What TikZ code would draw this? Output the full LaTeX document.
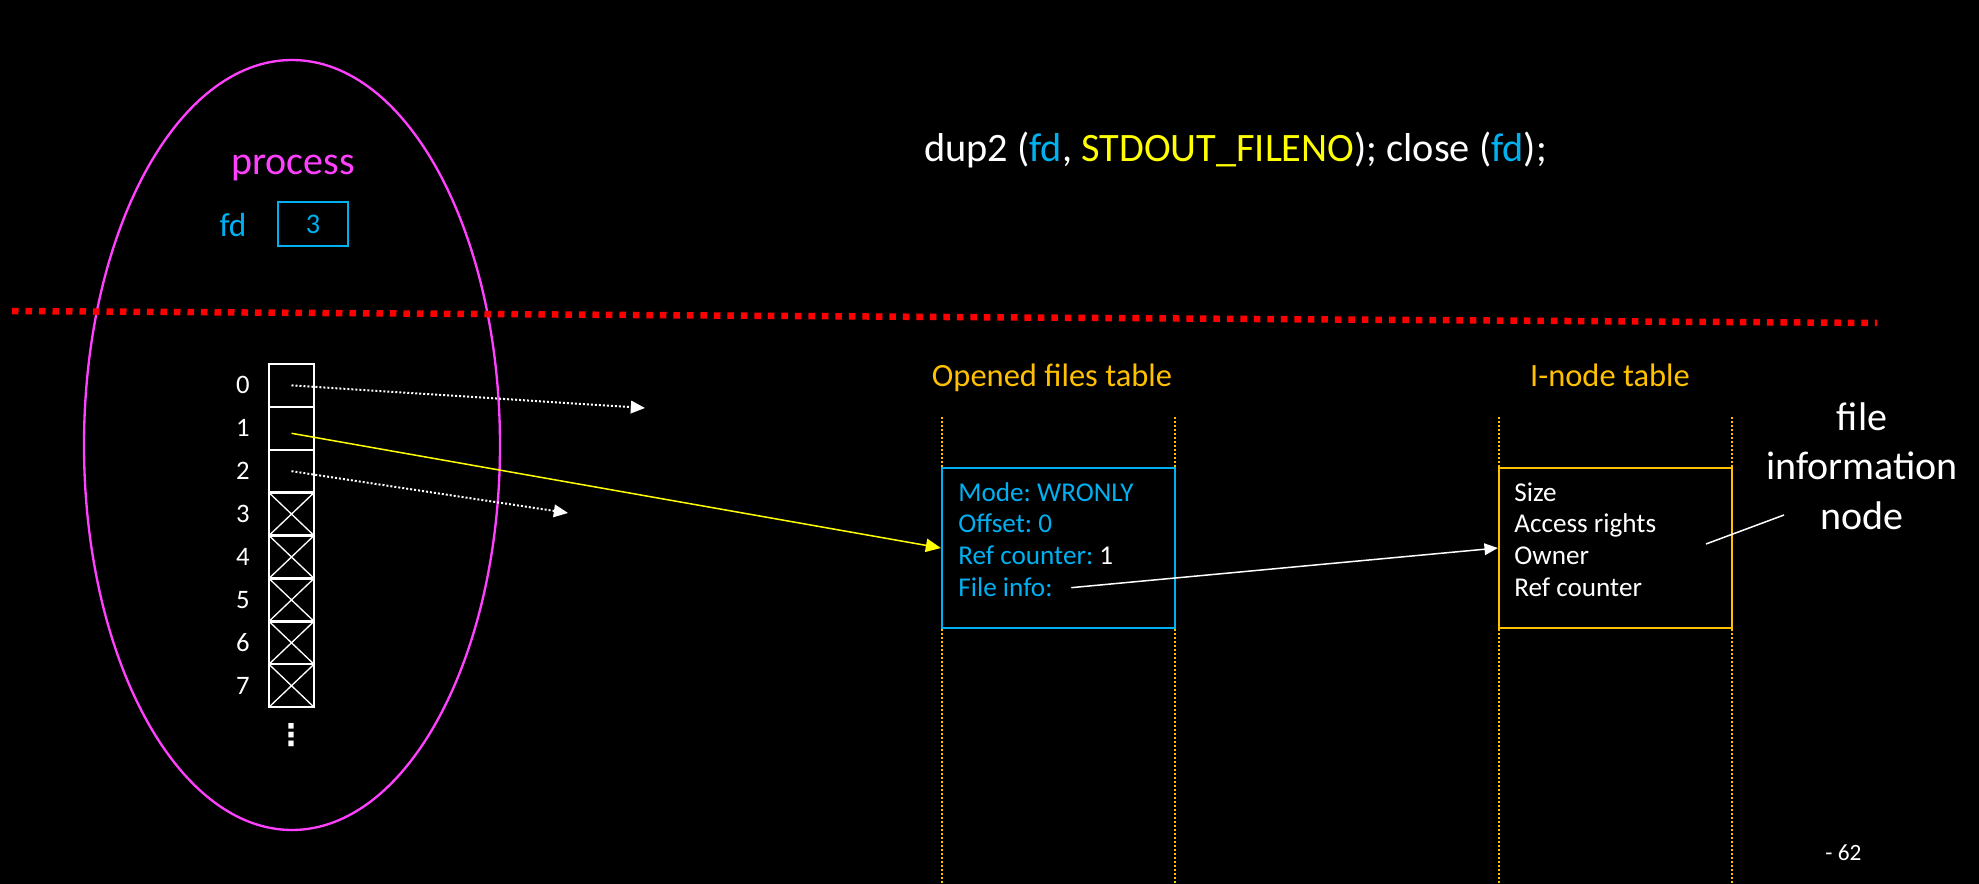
\documentclass[tikz,border=0pt]{standalone}
\usepackage{fontspec}
\setmainfont{Carlito}
\newfontfamily\symfont{DejaVu Sans}
\usepackage{tikz}
\usetikzlibrary{arrows.meta,shapes.geometric}
\definecolor{slideCyan}{RGB}{0,176,240}
\definecolor{slideYellow}{RGB}{255,255,0}
\definecolor{slideOrange}{RGB}{255,192,0}
\definecolor{slideMagenta}{RGB}{255,64,255}
\definecolor{slideRed}{RGB}{255,0,0}
\frenchspacing

\tikzset{
    fdcell/.style={draw=white, line width=1.4pt, minimum width=27pt, minimum height=25.7pt, inner sep=0pt},
    fdfree/.style={fdcell, path picture={
        \draw[white, line width=0.8pt] (path picture bounding box.north west) -- (path picture bounding box.south east)
            (path picture bounding box.north east) -- (path picture bounding box.south west);}},
    rowlbl/.style={white, inner sep=0pt, font=\fontsize{16}{19}\selectfont},
    tbltext/.style={anchor=base west, inner sep=0pt, font=\fontsize{16.3}{19}\selectfont},
    tbltitle/.style={anchor=base, inner sep=0pt, slideOrange, font=\fontsize{19.5}{23}\selectfont},
    tblrule/.style={slideOrange, line width=1.2pt, dash pattern=on 1.2pt off 1.2pt},
    ptrdot/.style={white, line width=1.2pt, dash pattern=on 1.2pt off 1.2pt, -{Triangle[length=8.5pt,width=7.5pt]}}
}

\begin{document}
\begin{tikzpicture}[x=0.6pt, y=-0.6pt]
    \useasboundingbox (0,0) rectangle (1979,884);
    \fill[black] (0,0) rectangle (1979,884);

    % Process boundary
    \node[ellipse, draw=slideMagenta, line width=1.4pt, minimum width=249.6pt, minimum height=462pt, inner sep=0pt] (procOval) at (292,445) {};
    \node[anchor=base, inner sep=0pt, slideMagenta, font=\fontsize{24}{29}\selectfont] (procName) at (293,175) {process};
    \node[anchor=base, inner sep=0pt, slideCyan, font=\fontsize{20}{24}\selectfont] (fdName) at (233,237) {fd};
    \node[draw=slideCyan, line width=1.2pt, minimum width=42pt, minimum height=26.4pt, inner sep=0pt, text=slideCyan, font=\fontsize{17}{20}\selectfont] (fdBox) at (313,224) {3};

    % User / kernel boundary
    \draw[slideRed, line width=3.9pt, dash pattern=on 3.9pt off 4.2pt] (12,311) -- (1877,323);

    % System call line
    \node[anchor=base west, inner sep=0pt, white, font=\fontsize{24.2}{29}\selectfont] (callLine) at (924,162)
        {dup2 (\textcolor{slideCyan}{fd}, \textcolor{slideYellow}{STDOUT\_FILENO}); close (\textcolor{slideCyan}{fd});};

    % Descriptor table
    \node[fdcell] (cell0) at (291.5,385.4) {};
    \node[fdcell] (cell1) at (291.5,428.3) {};
    \node[fdcell] (cell2) at (291.5,471.2) {};
    \node[fdfree] (cell3) at (291.5,514.1) {};
    \node[fdfree] (cell4) at (291.5,557.0) {};
    \node[fdfree] (cell5) at (291.5,599.9) {};
    \node[fdfree] (cell6) at (291.5,642.8) {};
    \node[fdfree] (cell7) at (291.5,685.7) {};
    \node[rowlbl] (lbl0) at (243,385.4) {0};
    \node[rowlbl] (lbl1) at (243,428.3) {1};
    \node[rowlbl] (lbl2) at (243,471.2) {2};
    \node[rowlbl] (lbl3) at (243,514.1) {3};
    \node[rowlbl] (lbl4) at (243,557.0) {4};
    \node[rowlbl] (lbl5) at (243,599.9) {5};
    \node[rowlbl] (lbl6) at (243,642.8) {6};
    \node[rowlbl] (lbl7) at (243,685.7) {7};
    \node[white, inner sep=0pt, font=\symfont\bfseries\fontsize{18}{20}\selectfont] (moreRows) at (291,735) {⋮};

    % Opened files table
    \node[tbltitle] (oftTitle) at (1052,387) {Opened files table};
    \draw[tblrule] (942,417) -- (942,884);
    \draw[tblrule] (1175,417) -- (1175,884);
    \node[draw=slideCyan, fill=black, line width=1.4pt, minimum width=139.8pt, minimum height=96pt, inner sep=0pt] (oftEntry) at (1058.5,548) {};
    \node[tbltext, slideCyan] (oftMode) at (958,502) {Mode: WRONLY};
    \node[tbltext, slideCyan] (oftOffset) at (958,533) {Offset: 0};
    \node[tbltext, slideCyan] (oftRef) at (958,565) {Ref counter: \textcolor{white}{1}};
    \node[tbltext, slideCyan] (oftFile) at (958,597) {File info:};

    % I-node table
    \node[tbltitle] (inoTitle) at (1610,387) {I-node table};
    \draw[tblrule] (1499,417) -- (1499,884);
    \draw[tblrule] (1732,417) -- (1732,884);
    \node[draw=slideOrange, fill=black, line width=1.4pt, minimum width=139.8pt, minimum height=96pt, inner sep=0pt] (inoEntry) at (1615.5,548) {};
    \node[tbltext, white] (inoSize) at (1514,502) {Size};
    \node[tbltext, white] (inoRights) at (1514,533) {Access rights};
    \node[tbltext, white] (inoOwner) at (1514,565) {Owner};
    \node[tbltext, white] (inoRef) at (1514,597) {Ref counter};

    \node[white, align=center, inner sep=0pt, font=\fontsize{24}{29.7}\selectfont] (infoNote) at (1862,466) {file\\information\\node};
    \coordinate (noteTail) at (1706,544);
    \coordinate (noteHead) at (1784,515);
    \draw[white, line width=0.9pt] (noteTail) -- (noteHead);

    % Pointers
    \coordinate (stdinEnd) at (645,408);
    \coordinate (stderrEnd) at (568,513);
    \draw[ptrdot] (cell0.center) -- (stdinEnd);
    \draw[ptrdot] (cell2.center) -- (stderrEnd);
    \draw[slideYellow, line width=0.9pt, -{Triangle[length=9pt,width=8pt]}] ([yshift=-3pt]cell1.center) -- (oftEntry.west);
    \draw[white, line width=0.9pt, -{Triangle[length=8pt,width=7pt]}] ([xshift=11pt]oftFile.east) -- (inoEntry.west);

    \node[anchor=base west, inner sep=0pt, white, font=\fontsize{14}{17}\selectfont] (pageNo) at (1825,860) {- 62};
\end{tikzpicture}
\end{document}
